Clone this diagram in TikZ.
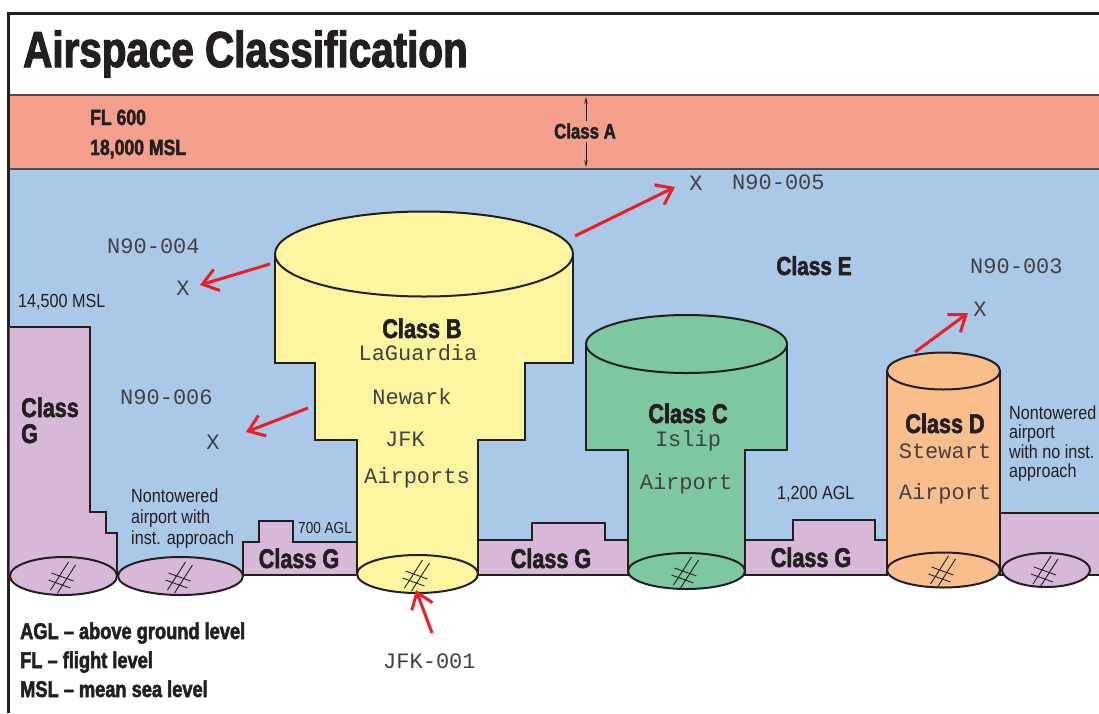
\documentclass[tikz,border=0pt]{standalone}
\usepackage{fontspec}
\usetikzlibrary{arrows.meta}
\newfontfamily\heavy[FakeStretch=0.8,FakeBold=2.2]{Liberation Sans Bold}
\newfontfamily\cond[FakeStretch=0.85]{Liberation Sans}
\newfontfamily\mono{Liberation Mono}
\definecolor{clsA}{HTML}{F5A08C}
\definecolor{clsE}{HTML}{AAC8E8}
\definecolor{clsG}{HTML}{D8B8D8}
\definecolor{clsB}{HTML}{FDF5A0}
\definecolor{clsC}{HTML}{7DC8A0}
\definecolor{clsD}{HTML}{F9BE8C}
\definecolor{ink}{HTML}{231F20}
\definecolor{arr}{HTML}{EE1D23}
\begin{document}
\begin{tikzpicture}[x=1pt,y=-1pt,
  outl/.style={draw=ink,line width=2pt,line join=miter},
  hv/.style={font=\heavy\fontsize{#1}{#1}\selectfont,text=ink,inner sep=0pt},
  cd/.style={font=\cond\fontsize{#1}{#1}\selectfont,text=ink,inner sep=0pt},
  mn/.style={font=\mono\fontsize{22}{22}\selectfont,text=ink!85,inner sep=0pt},
  redarrow/.style={draw=arr,line width=3pt,-{Straight Barb[length=15pt,width=22pt]}},
  runway/.pic={
    \draw[ink,line width=0.9pt] (-13,14) -- (5,-14) (-6,17) -- (12,-11)
      (-12,-3) -- (10,5) (-15,4) -- (7,12);
  }]
% canvas
\fill[white] (0,0) rectangle (1099,713);
\useasboundingbox (0,0) rectangle (1099,713);
% sky (class E) and class A band
\fill[clsE] (9,169) rectangle (1099,575);
\fill[clsA] (9,95) rectangle (1099,169);
\draw[ink!80,line width=1.4pt] (9,95) -- (1099,95) (9,169) -- (1099,169);
% frame
\draw[ink,line width=3pt] (8,713) -- (8,13) -- (1099,13);

% title
\node[hv=50.5,anchor=base west] (title) at (23,67) {Airspace Classification};
\node[hv=22,anchor=base west] (fl600) at (90,125) {FL 600};
\node[hv=22,anchor=base west] (msl18) at (90,155) {18,000 MSL};
\node[hv=21,anchor=base] (classA) at (585,138.5) {Class A};
\coordinate (aTop) at (586,97);
\coordinate (aBot) at (586,167);
\draw[ink,line width=0.9pt,-{Stealth[length=7pt,width=3.5pt]}] (classA.north -| aTop) ++(0,-2) -- (aTop);
\draw[ink,line width=0.9pt,-{Stealth[length=7pt,width=3.5pt]}] (classA.south -| aBot) ++(0,3) -- (aBot);

% class G areas
\fill[clsG] (9.5,327) -- (90,327) -- (90,512) -- (106,512) -- (106,533) -- (117,533) -- (117,576) -- (9.5,576) -- cycle;
\draw[outl] (9.5,327) -- (90,327) -- (90,512) -- (106,512) -- (106,533) -- (117,533) -- (117,576);
\draw[outl,fill=clsG] (243,575) -- (243,542) -- (259,542) -- (259,521) -- (293,521) -- (293,542) -- (357,542) -- (357,575) -- cycle;
\draw[outl,fill=clsG] (478,575) -- (478,540) -- (532,540) -- (532,523) -- (605,523) -- (605,540) -- (628,540) -- (628,575) -- cycle;
\draw[outl,fill=clsG] (745,575) -- (745,540) -- (793,540) -- (793,520) -- (875,520) -- (875,540) -- (887,540) -- (887,575) -- cycle;
\draw[outl,fill=clsG] (1000,575) -- (1000,513) -- (1100,513) -- (1100,575) -- cycle;

% nontowered airports
\draw[outl,fill=clsG] (63.5,576) ellipse [x radius=53.5,y radius=19];
\draw[outl,fill=clsG] (180.5,576) ellipse [x radius=62.5,y radius=19];
\draw[outl,fill=clsG] (1046,570) ellipse [x radius=44,y radius=17];
\pic at (63.5,576) {runway};
\pic at (180.5,576) {runway};
\pic at (1046,570) {runway};

% class B
\draw[outl,fill=clsB] (275,254) -- (275,363) -- (315,363) -- (315,440) -- (357,440) -- (357,574)
  -- (478,574) -- (478,440) -- (525,440) -- (525,363) -- (573,363) -- (573,254) -- cycle;
\draw[outl,fill=clsB] (424,254) ellipse [x radius=149,y radius=42.5];
\draw[outl,fill=clsB] (417.5,574) ellipse [x radius=60.5,y radius=19];
\pic at (417.5,574) {runway};

% class C
\draw[outl,fill=clsC] (586,344) -- (586,450) -- (628,450) -- (628,571) -- (745,571) -- (745,450)
  -- (787,450) -- (787,344) -- cycle;
\draw[outl,fill=clsC] (686.5,344) ellipse [x radius=100.5,y radius=29];
\draw[outl,fill=clsC] (686.5,571) ellipse [x radius=58.5,y radius=18];
\pic at (686.5,571) {runway};

% class D
\draw[outl,fill=clsD] (887,371) rectangle (1000,570);
\draw[outl,fill=clsD] (943.5,371) ellipse [x radius=56.5,y radius=18.5];
\draw[outl,fill=clsD] (943.5,570) ellipse [x radius=56.5,y radius=17.5];
\pic at (943.5,570) {runway};

% heavy labels
\node[hv=26,anchor=base] (classE) at (814,275) {Class E};
\node[hv=27,anchor=base] (classB) at (422,338) {Class B};
\node[hv=27,anchor=base] (classC) at (688,423) {Class C};
\node[hv=27,anchor=base] (classD) at (945,433) {Class D};
\node[hv=27,anchor=base west] (classGa) at (21,417) {Class};
\node[hv=27,anchor=base west] (classGb) at (21,443) {G};
\node[hv=27,anchor=base] (classG1) at (299,568) {Class G};
\node[hv=27,anchor=base] (classG2) at (551,568) {Class G};
\node[hv=27,anchor=base] (classG3) at (811,567) {Class G};
\node[hv=22.8,anchor=base west] (leg1) at (20,639) {AGL – above ground level};
\node[hv=22.8,anchor=base west] (leg2) at (20,668) {FL – flight level};
\node[hv=22.8,anchor=base west] (leg3) at (20,697) {MSL – mean sea level};

% condensed labels
\node[cd=19,anchor=base west] (msl145) at (18,307) {14,500 MSL};
\node[cd=19,anchor=base west] (ntl1) at (131,502) {Nontowered};
\node[cd=19,anchor=base west] (ntl2) at (131,523) {airport with};
\node[cd=19,anchor=base west] (ntl3) at (131,544) {inst. approach};
\node[cd=16,anchor=base west] (agl700) at (298,533) {700 AGL};
\node[cd=19,anchor=base west] (agl1200) at (777,499) {1,200 AGL};
\node[cd=19,anchor=base west] (ntr1) at (1009,419) {Nontowered};
\node[cd=19,anchor=base west] (ntr2) at (1009,438) {airport};
\node[cd=19,anchor=base west] (ntr3) at (1009,458) {with no inst.};
\node[cd=19,anchor=base west] (ntr4) at (1009,477) {approach};

% monospace labels
\node[mn,anchor=base] (lga) at (418,360.5) {LaGuardia};
\node[mn,anchor=base] (ewr) at (412,404.5) {Newark};
\node[mn,anchor=base] (jfk) at (405,446.5) {JFK};
\node[mn,anchor=base] (apB) at (417,483.5) {Airports};
\node[mn,anchor=base] (isp) at (688,446.5) {Islip};
\node[mn,anchor=base] (apC) at (686,489.5) {Airport};
\node[mn,anchor=base] (swf) at (945,458.5) {Stewart};
\node[mn,anchor=base] (apD) at (945,499.5) {Airport};
\node[mn,anchor=base west] (n004) at (107,253.5) {N90-004};
\node[mn] (x4) at (183,288) {X};
\node[mn,anchor=base west] (n006) at (120,404.5) {N90-006};
\node[mn] (x6) at (213,442) {X};
\node[mn] (x5) at (696,183) {X};
\node[mn,anchor=base west] (n005) at (732,189.5) {N90-005};
\node[mn,anchor=base west] (n003) at (970,273.5) {N90-003};
\node[mn] (x3) at (980,309) {X};
\node[mn,anchor=base west] (jfk001) at (383,668.5) {JFK-001};

% red arrows
\coordinate (t4) at (270,264);  \coordinate (h4) at (200,285);
\coordinate (t6) at (308,408);  \coordinate (h6) at (246,432);
\coordinate (t5) at (575,236);  \coordinate (h5) at (675,187);
\coordinate (t3) at (915,352);  \coordinate (h3) at (968,313);
\coordinate (tj) at (432,633);  \coordinate (hj) at (416,590);
\draw[redarrow] (t4) -- (h4);
\draw[redarrow] (t6) -- (h6);
\draw[redarrow] (t5) -- (h5);
\draw[redarrow] (t3) -- (h3);
\draw[redarrow] (tj) -- (hj);
\end{tikzpicture}
\end{document}
